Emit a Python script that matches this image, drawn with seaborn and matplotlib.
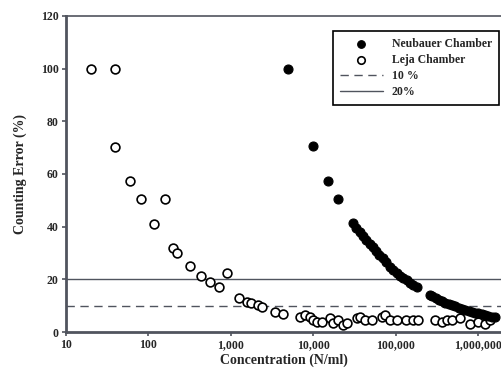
import matplotlib
matplotlib.use("Agg")
import matplotlib.pyplot as plt
import seaborn as sns
import pandas as pd
import numpy as np

# Neubauer chamber (filled markers)
neubauer_conc = [4900, 10000, 15000, 20000,
                 30200, 33100, 36300, 39800, 43600, 47900, 52500, 57500, 63100, 69200,
                 75900, 85100, 93300, 102000, 112000, 123000, 135000, 148000, 162000, 178000,
                 257000, 275000, 302000, 331000, 363000, 398000, 437000, 479000, 525000,
                 575000, 631000, 692000, 759000, 832000, 912000, 1000000, 1100000, 1200000,
                 1320000, 1450000, 1580000]
neubauer_err = [100, 70.5, 57.5, 50.5,
                41.4, 39.5, 38.0, 36.5, 35.0, 33.6, 32.3, 30.8, 29.3, 28.0,
                26.6, 24.7, 23.5, 22.4, 21.4, 20.6, 19.8, 18.8, 17.9, 17.1,
                14.0, 13.5, 12.9, 12.3, 11.7, 11.2, 10.7, 10.2, 9.8,
                9.3, 8.9, 8.5, 8.1, 7.7, 7.4, 7.1, 6.8, 6.5,
                6.2, 5.9, 5.6]

# Leja chamber (open markers)
leja_conc = [20, 39, 40, 60, 81, 117, 159, 198, 222, 320, 435, 556, 712, 890,
             1260, 1550, 1780, 2130, 2390, 3400, 4260,
             6850, 7890, 9080, 9960, 10960, 12600, 15900, 17500, 20100, 23100, 25400,
             33400, 36700, 42200, 51000, 67000, 73800, 84800, 102000, 134000, 162000,
             187000, 297000, 357000, 411000, 473000, 597000, 790000, 1000000, 1200000,
             1380000]
leja_err = [100, 100, 70.3, 57.5, 50.5, 41.0, 50.5, 32.0, 30.0, 25.0, 21.3, 19.0, 17.0, 22.4,
            12.8, 11.4, 11.0, 10.3, 9.5, 7.6, 6.8,
            5.8, 6.5, 5.6, 4.6, 3.9, 3.9, 5.2, 3.5, 4.6, 2.7, 3.5,
            5.2, 5.8, 4.6, 4.6, 5.6, 6.5, 4.6, 4.6, 4.6, 4.6,
            4.6, 4.6, 3.9, 4.6, 4.6, 5.2, 3.1, 3.9, 3.1,
            4.6]

x_ticks = [10, 100, 1000, 10000, 100000, 1000000]
x_tick_labels = ["10", "100", "1,000", "10,000", "100,000", "1,000,000"]
y_ticks = [0, 20, 40, 60, 80, 100, 120]

sns.set_style("ticks")
plt.rcParams['font.family'] = ['Liberation Serif', 'DejaVu Serif']
plt.rcParams['font.weight'] = 'bold'

neu_df = pd.DataFrame({"conc": neubauer_conc, "err": neubauer_err})
leja_df = pd.DataFrame({"conc": leja_conc, "err": leja_err})

fig = plt.figure(figsize=(5.02, 3.71), dpi=100)
ax = fig.add_axes([0.131, 0.105, 0.869, 0.852])

line_col = "#50545e"
ax.axhline(10, color=line_col, lw=1.0, ls=(0, (6, 4)), label="10 %", zorder=1)
ax.axhline(20, color=line_col, lw=1.0, label="20%", zorder=1)

sns.scatterplot(data=neu_df, x="conc", y="err", ax=ax, marker="o", s=42,
                color="black", edgecolor="black", linewidth=0.8,
                label="Neubauer Chamber", zorder=3)
sns.scatterplot(data=leja_df, x="conc", y="err", ax=ax, marker="o", s=40,
                facecolor="white", edgecolor="black", linewidth=1.2,
                label="Leja Chamber", zorder=2)

ax.set_xscale("log")
ax.set_xlim(10, 1.93e6)
ax.set_ylim(0, 120)
ax.set_xticks(x_ticks)
ax.set_xticklabels(x_tick_labels)
ax.xaxis.set_minor_locator(matplotlib.ticker.NullLocator())
ax.set_yticks(y_ticks)
ax.tick_params(axis="both", labelsize=8.5, length=3, width=1.2, color=line_col, pad=2)

ax.set_xlabel("Concentration (N/ml)", fontsize=10, fontweight="bold", labelpad=2)
ax.set_ylabel("Counting Error (%)", fontsize=10, fontweight="bold", labelpad=10)

for side in ["left", "bottom"]:
    ax.spines[side].set_linewidth(2.0)
    ax.spines[side].set_color(line_col)
ax.spines["top"].set_linewidth(1.2)
ax.spines["top"].set_color(line_col)
ax.spines["right"].set_visible(False)

handles, labels = ax.get_legend_handles_labels()
order = [labels.index(l) for l in ["Neubauer Chamber", "Leja Chamber", "10 %", "20%"]]
leg = ax.legend([handles[i] for i in order], [labels[i] for i in order],
                loc="upper left", bbox_to_anchor=(0.599, 0.972), fontsize=8.5,
                frameon=True, fancybox=False, edgecolor="black", framealpha=1,
                handlelength=3.6, borderpad=0.6, labelspacing=0.35, handletextpad=0.8,
                markerscale=0.85)
leg.get_frame().set_linewidth(1.2)

fig.savefig("out.png", dpi=100)
